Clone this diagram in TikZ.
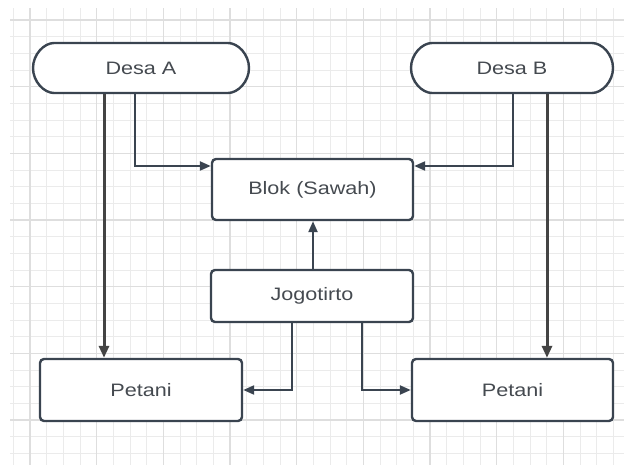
\documentclass[tikz,border=0pt]{standalone}
\usepackage{fontspec}
\setmainfont{Liberation Sans}[FakeStretch=1.2]
\usetikzlibrary{arrows.meta,shapes.misc}
\definecolor{edge}{HTML}{3A4450}
\definecolor{dark}{HTML}{444444}
\definecolor{txt}{HTML}{454A50}
\definecolor{gridminor}{HTML}{EBEBEB}
\definecolor{gridmajor}{HTML}{DEDEDE}
\tikzset{
  box/.style={draw=edge, line width=2.4pt, rounded corners=4pt, fill=white,
    inner sep=0pt, text=txt, font=\fontsize{18}{21}\selectfont},
  pill/.style={box, rounded rectangle},
  conn/.style={draw=edge, line width=2.2pt, -{Triangle[length=11pt,width=9pt]}},
  connd/.style={draw=dark, line width=3pt, -{Triangle[length=12pt,width=10pt]}},
}
\begin{document}
\begin{tikzpicture}[x=1pt,y=-1pt]
\useasboundingbox (0,0) rectangle (624,465);
\fill[white] (0,0) rectangle (624,465);
% grid
\foreach \i in {0,...,37} {
  \draw[gridminor, line width=0.9pt] ({13.33+\i*16.667},8) -- ({13.33+\i*16.667},465);
}
\foreach \j in {0,...,27} {
  \draw[gridminor, line width=0.9pt] (10,{20+\j*16.667-16.667}) -- (624,{20+\j*16.667-16.667});
}
\foreach \i in {0,...,9} {
  \draw[gridmajor, line width=1.1pt] ({30+\i*66.667},8) -- ({30+\i*66.667},465);
}
\foreach \j in {0,...,6} {
  \draw[gridmajor, line width=1.1pt] (10,{20+\j*66.667}) -- (624,{20+\j*66.667});
}
\fill[white] (0,0) rectangle (624,8);
\fill[white] (0,0) rectangle (10,465);

% nodes
\node[pill, minimum width=216pt, minimum height=50pt] (da) at (141,68) {Desa A};
\node[pill, minimum width=202pt, minimum height=50pt] (db) at (512,68) {Desa B};
\node[box, minimum width=201pt, minimum height=61pt] (blok) at (312.5,189.5) {Blok (Sawah)};
\node[box, minimum width=202pt, minimum height=52pt] (jogo) at (312,296) {Jogotirto};
\node[box, minimum width=202pt, minimum height=62pt] (pl) at (141,390) {Petani};
\node[box, minimum width=201pt, minimum height=62pt] (pr) at (512.5,390) {Petani};

% connectors
\draw[connd] (da.south -| 104,0) -- (pl.north -| 104,0);
\draw[connd] (db.south -| 547,0) -- (pr.north -| 547,0);
\draw[conn] (da.south -| 135,0) |- (blok.west |- 0,166);
\draw[conn] (db.south -| 513,0) |- (blok.east |- 0,166);
\draw[conn] (jogo.north -| 313,0) -- (blok.south -| 313,0);
\draw[conn] (jogo.south -| 292,0) |- (pl.east);
\draw[conn] (jogo.south -| 362,0) |- (pr.west);
\end{tikzpicture}
\end{document}
